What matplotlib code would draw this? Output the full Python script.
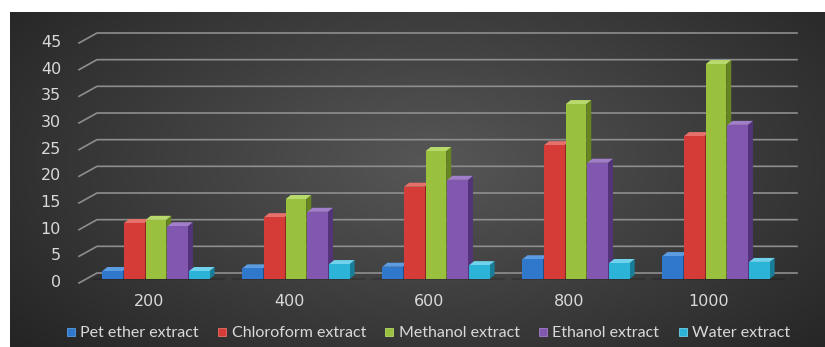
import numpy as np
import matplotlib.pyplot as plt
from matplotlib.patches import Polygon, Rectangle
from matplotlib.lines import Line2D

doses = ['200', '400', '600', '800', '1000']
series = ['Pet ether extract', 'Chloroform extract', 'Methanol extract',
          'Ethanol extract', 'Water extract']
pet = [1.5, 2.0, 2.3, 3.7, 4.3]
chloro = [10.5, 11.6, 17.3, 25.1, 26.8]
metha = [11.1, 15.0, 24.0, 32.8, 40.3]
etha = [9.9, 12.6, 18.6, 21.8, 28.9]
water = [1.5, 2.8, 2.6, 3.0, 3.2]
yticks = [0, 5, 10, 15, 20, 25, 30, 35, 40, 45]

# front / side / top colours
cols = [('#2f78cc', '#1d4d86', '#5c9de2'),
        ('#d63c37', '#8f231f', '#e5716a'),
        ('#99c13d', '#678622', '#b8da6c'),
        ('#8257b0', '#53347a', '#a17fca'),
        ('#2bb4d7', '#187d97', '#70d2ec')]

W, H = 825, 347
fig = plt.figure(figsize=(W / 100, H / 100), dpi=100)
fig.patch.set_facecolor('white')

# dark panel with radial gradient
bg = fig.add_axes([10 / W, 0, 1 - 10 / W, 1 - 12 / H])
gx, gy = np.meshgrid(np.linspace(0, 1, 400), np.linspace(0, 1, 200))
r = np.sqrt(((gx - 0.52) / 0.75) ** 2 + ((gy - 0.45) / 0.95) ** 2)
shade = np.clip(0.34 - 0.22 * r, 0.13, 0.34)
bg.imshow(np.dstack([shade] * 3), aspect='auto', extent=[0, 1, 0, 1], origin='upper')
bg.axis('off')

# bar plane axes
left, right, base, top = 86, 786, 279, 39
ax = fig.add_axes([left / W, (H - base) / H, (right - left) / W, (base - top) / H])
ax.set_xlim(-0.5, 4.5)
ax.set_ylim(0, 45)
ax.axis('off')
ax.patch.set_alpha(0)
px = (right - left) / 5.0      # pixels per x unit
py = (base - top) / 45.0       # pixels per y unit

# gridlines: front diagonal + back line
fdx, fdy = -7 / px, -4 / py
bdx, bdy = 11 / px, 6 / py
for v in yticks:
    ax.plot([-0.5 + fdx, -0.5 + bdx, 4.5 + bdx], [v + fdy, v + bdy, v + bdy],
            color='#8e8e8e', lw=1.2, clip_on=False, zorder=1)
    ax.text(-0.5 - 25 / px, v - 3.5 / py, str(v), ha='right', va='center',
            color='#d9d9d9', fontsize=11.5, family='DejaVu Sans')

# floor shadow
for i in range(len(doses)):
    ax.add_patch(Rectangle((i - 0.46, -1.0 / py), 0.95, 2.2 / py,
                           color='black', alpha=0.15, lw=0, zorder=1.5,
                           clip_on=False))

# 3d bars
data = [pet, chloro, metha, etha, water]
slot = 21.7 / px
bw = 20.5 / px
ddx, ddy = 5 / px, 4 / py
for i in range(len(doses)):
    for k, vals in enumerate(data):
        h = vals[i]
        x0 = i + (k - 2) * slot - bw / 2
        x1 = x0 + bw
        z = 3 + i * 10 + k
        fc, sc, tc = cols[k]
        ax.add_patch(Polygon([(x1, 0), (x1 + ddx, ddy), (x1 + ddx, h + ddy), (x1, h)],
                             closed=True, fc=sc, ec='none', zorder=z, clip_on=False))
        ax.add_patch(Polygon([(x0, h), (x1, h), (x1 + ddx, h + ddy), (x0 + ddx, h + ddy)],
                             closed=True, fc=tc, ec='none', zorder=z, clip_on=False))
        ax.bar(x0, h, width=bw, align='edge', color=fc, lw=0, zorder=z, clip_on=False)

for i, d in enumerate(doses):
    ax.text(i - 7 / px, -23 / py, d, ha='center', va='center', color='#d9d9d9',
            fontsize=11.5, family='DejaVu Sans', clip_on=False)

handles = [Line2D([], [], ls='none', marker='s', markersize=5.5,
                  markerfacecolor=c[0], markeredgecolor=c[2], markeredgewidth=0.6)
           for c in cols]
leg = fig.legend(handles, series, loc='center', bbox_to_anchor=(428 / W, 1 - 333 / H),
                 ncol=5, frameon=False, handlelength=0.6, handletextpad=0.3,
                 columnspacing=1.15, prop={'family': 'Lato', 'size': 11.5})
for t in leg.get_texts():
    t.set_color('#d9d9d9')

fig.savefig('out.png', dpi=100, facecolor='white')
